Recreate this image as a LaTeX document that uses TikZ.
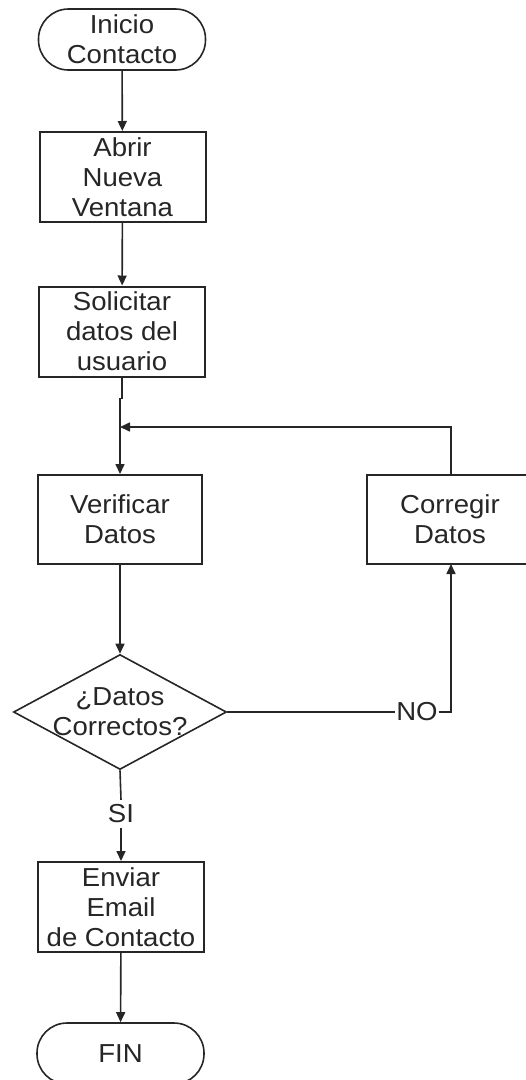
\documentclass[tikz,border=0pt]{standalone}
\usepackage{fontspec}
\setmainfont{Liberation Sans}[FakeStretch=1.06]
\usetikzlibrary{shapes.geometric,arrows.meta}
\begin{document}
\begin{tikzpicture}[x=1pt,y=-1pt,
  every node/.style={font=\fontsize{26}{30}\selectfont, text=black!85, align=center},
  proc/.style={draw=black!85, line width=2pt, fill=white, minimum width=166pt, minimum height=90pt, inner sep=0pt},
  term/.style={draw=black!85, line width=1.6pt, fill=white, rounded corners=30pt, minimum width=167pt, minimum height=61pt, inner sep=0pt},
  decision/.style={diamond, aspect=1.85, draw=black!85, line width=1.6pt, fill=white, minimum width=213pt, minimum height=115pt, inner sep=0pt},
  lbl/.style={inner sep=1pt, outer sep=0pt},
  flow/.style={draw=black!85, line width=1.6pt},
  arr/.style={flow, -{Triangle[length=10pt,width=9pt]}}
]
\useasboundingbox (0,0) rectangle (526,1080);
\clip (0,0) rectangle (526,1080);

% nodes
\node[term] (start) at (122,39.5) {Inicio\\Contacto};
\node[proc] (abrir) at (122.5,177) {Abrir\\Nueva\\Ventana};
\node[proc] (sol) at (122,331.5) {Solicitar\\datos del\\usuario};
\node[proc, minimum width=164pt, minimum height=89pt] (ver) at (120,519.5) {Verificar\\Datos};
% the correction box is open on the right: it runs past the page edge
\node[minimum width=190pt, minimum height=89pt, inner sep=0pt] (cor) at (462,519.5) {};
\draw[draw=black!85, line width=2pt] (cor.north east) -- (cor.north west) -- (cor.south west) -- (cor.south east);
\node (corText) at (450,519.5) {Corregir\\Datos};
\node[decision] (dia) at (120,712) {};
\node (diaText) at (120,712) {¿Datos\\Correctos?};
\node[lbl] (no) at (417,712) {NO};
\node[lbl, inner sep=5pt] (si) at (121,814) {SI};
\node[proc, minimum height=90pt] (env) at (121,907) {Enviar\\Email\\de Contacto};
\node[term] (fin) at (120.5,1053.5) {FIN};

\coordinate (join) at (120,427);
\coordinate (corTop) at (451,475);
\coordinate (corBot) at (451,564);

% connectors
\draw[arr] (start) -- (abrir);
\draw[arr] (abrir) -- (sol);
\draw[flow] (sol.south) |- ++(0,21) -| (join);
\draw[arr] (join) -- (ver.north);
\draw[arr] (corTop) |- (join);
\draw[arr] (ver) -- (dia);
\draw[flow] (dia.east) -- (no.west);
\draw[arr] (no.east) -| (corBot);
\draw[flow] (dia.south) -- (si.north);
\draw[arr] (si.south) -- (env.north);
\draw[arr] (env) -- (fin);
\end{tikzpicture}
\end{document}
